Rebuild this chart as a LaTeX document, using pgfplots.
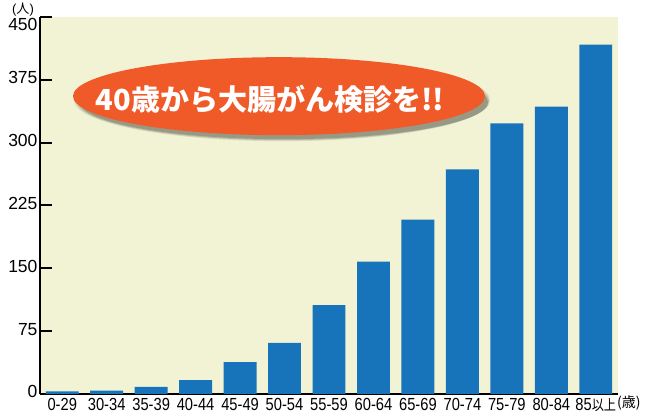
\documentclass[border=0pt]{standalone}
\usepackage{fontspec}
\setmainfont{Liberation Sans}
\newfontfamily\jp{Noto Sans CJK JP}
\newfontfamily\xfont[FakeStretch=0.84]{Liberation Sans}
\newfontfamily\jpx[FakeStretch=0.84]{Noto Sans CJK JP}
\usepackage{pgfplots}
\pgfplotsset{compat=1.18}
\definecolor{barBlue}{RGB}{24,116,186}
\definecolor{bgCream}{RGB}{241,243,212}
\definecolor{ovalOrange}{RGB}{240,90,40}

\begin{document}
\begin{tikzpicture}
\begin{axis}[
    width=578pt, height=377pt,
    scale only axis,
    axis lines*=left,
    axis line style={black, line width=2pt, -},
    axis background/.style={fill=bgCream},
    ybar, bar width=0.74,
    xmin=-0.5, xmax=12.5,
    ymin=0, ymax=450,
    ytick={0,75,...,375},
    extra y ticks={450},
    extra y tick style={yticklabel style={yshift=-10pt}},
    xtick={0,...,12},
    xticklabels={0-29,30-34,35-39,40-44,45-49,50-54,55-59,60-64,65-69,70-74,75-79,80-84,85{\fontsize{14.5}{16}\jpx 以上}},
    typeset ticklabels with strut,
    minor xtick={-0.5,0.5,...,12.5},
    tick align=inside,
    major tick length=12pt,
    minor tick length=8pt,
    xtick style={draw=none},
    ytick style={black, line width=2pt},
    minor tick style={black, line width=2pt},
    /pgf/number format/assume math mode=true,
    yticklabel style={font=\fontsize{17.5}{20}\selectfont, xshift=1pt},
    xticklabel style={font=\fontsize{17.5}{20}\xfont, yshift=1pt},
    clip=false,
]
\addplot[fill=barBlue, draw=none] coordinates {
    (0,3) (1,4) (2,8.5) (3,16.7) (4,38) (5,61) (6,106)
    (7,158) (8,208) (9,268) (10,323) (11,343) (12,417)
};
% annotation oval with soft shadow
\fill[black, opacity=0.10] ([xshift=3pt,yshift=-4pt]rel axis cs:0.4135,0.79) ellipse [x radius=208pt, y radius=41pt];
\fill[black, opacity=0.14] ([xshift=4pt,yshift=-5pt]rel axis cs:0.4135,0.79) ellipse [x radius=206pt, y radius=39pt];
\fill[black, opacity=0.18] ([xshift=5pt,yshift=-6pt]rel axis cs:0.4135,0.79) ellipse [x radius=204pt, y radius=37pt];
\fill[ovalOrange] (rel axis cs:0.4135,0.79) ellipse [x radius=206pt, y radius=39pt];
\node[text=white, font=\fontsize{29}{32}\jp\bfseries] at (rel axis cs:0.398,0.781) {40歳から大腸がん検診を!!};
\node[font=\fontsize{13}{15}\selectfont, inner sep=0pt] at ([xshift=-17pt,yshift=7pt]rel axis cs:0,1) {({\jp 人})};
\node[anchor=west, font=\fontsize{14}{16}\jp, inner sep=0pt] at ([xshift=-1pt,yshift=-9pt]rel axis cs:1,0) {(歳)};
\end{axis}
\pgfresetboundingbox
\path[use as bounding box] (-40pt,-20pt) rectangle (605pt,394pt);
\end{tikzpicture}
\end{document}
